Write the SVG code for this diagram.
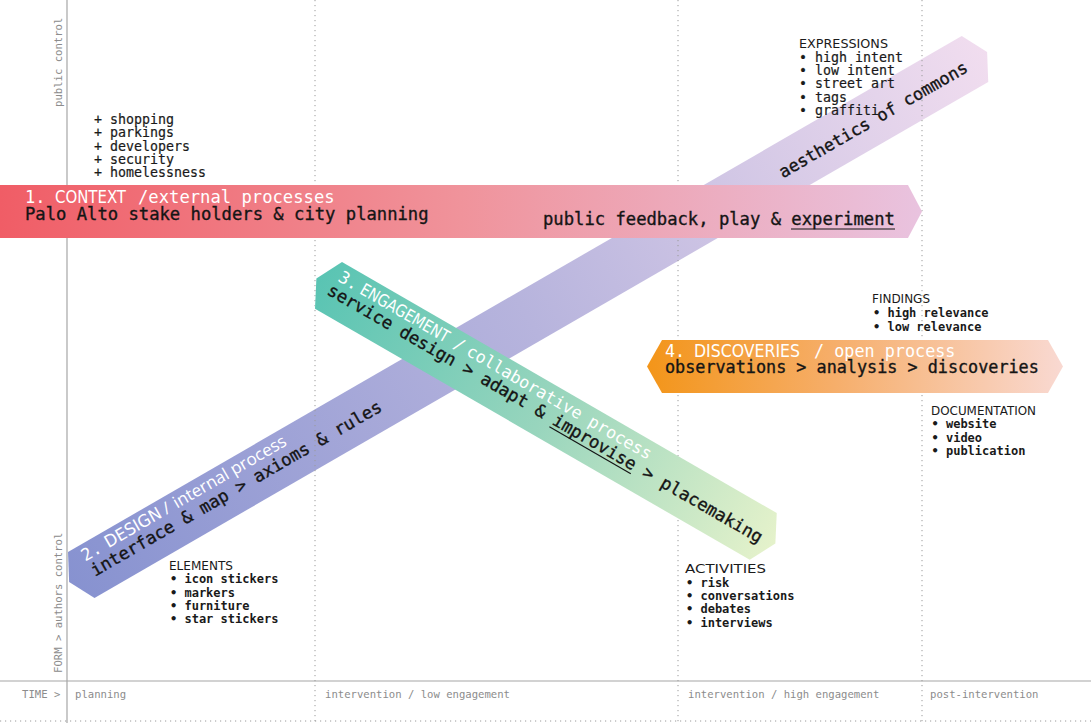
<svg xmlns="http://www.w3.org/2000/svg" width="1091" height="723" viewBox="0 0 1091 723">
<defs>
<linearGradient id="gContext" x1="0" y1="0" x2="1" y2="0">
<stop offset="0" stop-color="#f05d66"/>
<stop offset="0.5" stop-color="#f0939b"/>
<stop offset="1" stop-color="#e9c3df"/>
</linearGradient>
<linearGradient id="gDesign" x1="0" y1="0" x2="1" y2="0">
<stop offset="0" stop-color="#8792d0"/>
<stop offset="0.5" stop-color="#b7b4dd"/>
<stop offset="1" stop-color="#f1ddef"/>
</linearGradient>
<linearGradient id="gEngage" x1="0" y1="0" x2="1" y2="0">
<stop offset="0" stop-color="#59c4b3"/>
<stop offset="0.5" stop-color="#98d5bd"/>
<stop offset="1" stop-color="#e5f2cb"/>
</linearGradient>
<linearGradient id="gDisc" x1="0" y1="0" x2="1" y2="0">
<stop offset="0" stop-color="#f39519"/>
<stop offset="0.45" stop-color="#f6ae6a"/>
<stop offset="1" stop-color="#f9d9d2"/>
</linearGradient>
</defs>
<style>
.mono{font-family:"DejaVu Sans Mono",monospace}
.cond{font-family:"DejaVu Sans",sans-serif;font-stretch:condensed}
.w{fill:#ffffff}
.k{fill:#151515;stroke:#151515;stroke-width:0.35}
.axis{font-family:"DejaVu Sans Mono",monospace;font-size:10.6px;fill:#8c8c8c}
.dot{stroke:#9a9a9a;stroke-width:1;stroke-dasharray:1.2 3.8;fill:none}
.solid{stroke:#a6a6a6;stroke-width:1.2;fill:none}
.lst{font-family:"DejaVu Sans Mono",monospace;font-size:13.3px;fill:#1a1a1a;stroke:#1a1a1a;stroke-width:0.2}
.lstb{font-family:"DejaVu Sans Mono",monospace;font-size:12px;font-weight:bold;fill:#1a1a1a}
.hd{font-family:"DejaVu Sans",sans-serif;font-size:13px;fill:#1a1a1a}
.ul{stroke:#151515;stroke-width:1.2}
</style>
<rect width="1091" height="723" fill="#ffffff"/>

<g id="axes">
<line class="solid" x1="67" y1="0" x2="67" y2="723"/>
<line class="solid" x1="0" y1="681" x2="1091" y2="681"/>
<line class="dot" x1="0" y1="721" x2="1091" y2="721"/>
<text class="axis" transform="translate(62,107) rotate(-90)">public control</text>
<text class="axis" transform="translate(62,673) rotate(-90)">FORM &gt; authors control</text>
<text class="axis" x="22" y="698">TIME &gt;</text>
<text class="axis" x="75" y="698">planning</text>
<text class="axis" x="325" y="698">intervention / low engagement</text>
<text class="axis" x="688" y="698">intervention / high engagement</text>
<text class="axis" x="930" y="698">post-intervention</text>
</g>

<g id="design" transform="translate(68,552) rotate(-30)">
<polygon points="-14,26.5 0,0 1032,0 1046,26.5 1032,53 0,53" fill="url(#gDesign)"/>
<text class="mono w" x="10" y="17" font-size="17">2.</text>
<text class="cond w" x="37" y="17" font-size="17" textLength="63" lengthAdjust="spacingAndGlyphs">DESIGN</text>
<text class="w" x="104" y="17" font-family="Open Sans, sans-serif" font-size="17">/</text>
<text class="w" x="116" y="17" font-family="Open Sans, sans-serif" font-size="17" textLength="128" lengthAdjust="spacingAndGlyphs">internal process</text>
<text class="mono k" x="11" y="35" font-size="17.3">interface &amp; map &gt; axioms &amp; rules</text>
<text class="mono k" x="806" y="34" font-size="17">aesthetics of commons</text>
</g>

<g id="grid">
<line class="dot" x1="315" y1="0" x2="315" y2="723"/>
<line class="dot" x1="678" y1="0" x2="678" y2="723"/>
<line class="dot" x1="922" y1="0" x2="922" y2="723"/>
</g>

<g id="context">
<polygon points="0,185 908,185 922,211.5 908,238 0,238" fill="url(#gContext)"/>
<text class="mono w" x="25" y="203" font-size="17">1.</text>
<text class="cond w" x="55" y="203" font-size="17" textLength="71" lengthAdjust="spacingAndGlyphs">CONTEXT</text>
<text class="mono w" x="138" y="203" font-size="17.2">/external processes</text>
<text class="mono k" x="25" y="220" font-size="17.2">Palo Alto stake holders &amp; city planning</text>
<text class="mono k" x="543" y="225" font-size="17.2">public feedback, play &amp; experiment</text>
<line class="ul" x1="791" y1="229" x2="895" y2="229"/>
</g>

<g id="engagement" transform="translate(342,262) rotate(30)">
<polygon points="-14,27 0,0 502,0 516,27 502,54 0,54" fill="url(#gEngage)"/>
<text class="mono w" x="5" y="18.5" font-size="17">3.</text>
<text class="cond w" x="30" y="18.5" font-size="17" textLength="100" lengthAdjust="spacingAndGlyphs">ENGAGEMENT</text>
<text class="mono w" x="138" y="18.5" font-size="16.7">/</text>
<text class="mono w" x="153" y="18.5" font-size="16.7">collaborative process</text>
<text class="mono k" x="2" y="35.5" font-size="17.3">service design &gt; adapt &amp; improvise &gt; placemaking</text>
<line class="ul" x1="262" y1="39" x2="356" y2="39"/>
</g>

<g id="discoveries">
<polygon points="647,366.5 662,340 1048,340 1063,366.5 1048,393 662,393" fill="url(#gDisc)"/>
<text class="mono w" x="665" y="356.7" font-size="16.8">4.</text>
<text class="cond w" x="694" y="356.7" font-size="17" textLength="106" lengthAdjust="spacingAndGlyphs">DISCOVERIES</text>
<text class="mono w" x="814" y="356.7" font-size="16.8">/ open process</text>
<text class="mono k" x="665" y="373.3" font-size="16.8">observations &gt; analysis &gt; discoveries</text>
</g>

<g id="stakeholders">
<text class="lst" x="94" y="124">+ shopping</text>
<text class="lst" x="94" y="137.3">+ parkings</text>
<text class="lst" x="94" y="150.7">+ developers</text>
<text class="lst" x="94" y="164">+ security</text>
<text class="lst" x="94" y="177.3">+ homelessness</text>
</g>

<g id="expressions">
<text class="hd" x="799" y="47.7" textLength="89" lengthAdjust="spacingAndGlyphs">EXPRESSIONS</text>
<text class="lst" x="799" y="61.7">• high intent</text>
<text class="lst" x="799" y="75">• low intent</text>
<text class="lst" x="799" y="88.3">• street art</text>
<text class="lst" x="799" y="101.5">• tags</text>
<text class="lst" x="799" y="114.7">• graffiti</text>
</g>

<g id="elements">
<text class="hd" x="169" y="570" textLength="64" lengthAdjust="spacingAndGlyphs">ELEMENTS</text>
<text class="lstb" x="170" y="583.3">• icon stickers</text>
<text class="lstb" x="170" y="596.7">• markers</text>
<text class="lstb" x="170" y="610">• furniture</text>
<text class="lstb" x="170" y="623.3">• star stickers</text>
</g>

<g id="activities">
<text class="hd" x="685" y="573.3" textLength="81" lengthAdjust="spacingAndGlyphs">ACTIVITIES</text>
<text class="lstb" x="686" y="586.7">• risk</text>
<text class="lstb" x="686" y="600">• conversations</text>
<text class="lstb" x="686" y="613.3">• debates</text>
<text class="lstb" x="686" y="626.7">• interviews</text>
</g>

<g id="findings">
<text class="hd" x="872" y="303.3" textLength="58" lengthAdjust="spacingAndGlyphs">FINDINGS</text>
<text class="lstb" x="873" y="317.3">• high relevance</text>
<text class="lstb" x="873" y="330.7">• low relevance</text>
</g>

<g id="documentation">
<text class="hd" x="931" y="415" textLength="105" lengthAdjust="spacingAndGlyphs">DOCUMENTATION</text>
<text class="lstb" x="931.5" y="428">• website</text>
<text class="lstb" x="931.5" y="441.5">• video</text>
<text class="lstb" x="931.5" y="455">• publication</text>
</g>
</svg>
